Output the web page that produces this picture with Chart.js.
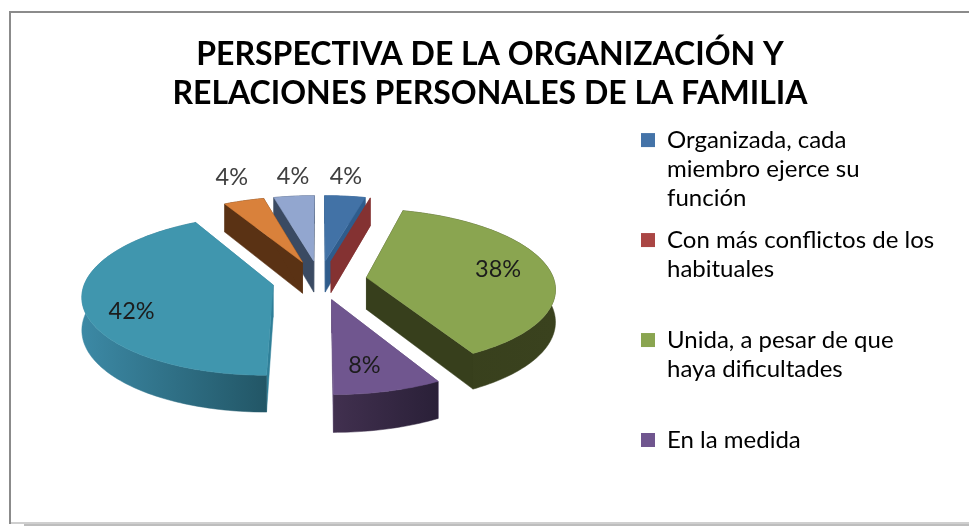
<!DOCTYPE html>
<html><head><meta charset="utf-8">
<style>html,body{margin:0;padding:0;background:#fff}#w{width:969px;height:527px;position:relative}</style>
<script src="https://cdn.jsdelivr.net/npm/chart.js@4"></script>
</head><body><div id="w"><canvas id="c" width="969" height="527"></canvas></div>
<script>
const titleLines = ['PERSPECTIVA DE LA ORGANIZACIÓN Y', 'RELACIONES PERSONALES DE LA FAMILIA'];
const categories = [
  'Organizada, cada miembro ejerce su función',
  'Con más conflictos de los habituales',
  'Unida, a pesar de que haya dificultades',
  'En la medida',
  '', '', ''
];
const legendLines = [
  ['Organizada, cada', 'miembro ejerce su', 'función'],
  ['Con más conflictos de los', 'habituales', ''],
  ['Unida, a pesar de que', 'haya dificultades', ''],
  ['En la medida']
];
const percentages = [4, 0, 38, 8, 42, 4, 4];

const topColors    = ['#4272a6', '#843232', '#8aa550', '#70568f', '#4096ae', '#d9813b', '#92a6cf'];
const legendColors = ['#4473a8', '#aa4644', '#8aa550', '#70568f', '#4096ae', '#d9813b', '#92a6cf'];
const faceColors   = ['#2f5c8c', '#843232', '#373f1c', '#5c4678', '#2f7f98', '#5a3214', '#3a4a62'];
const wallLeft     = ['#2f5c8c', '#843232', '#373f1c', '#41304f', '#3c89a5', '#5a3214', '#3a4a62'];
const wallRight    = ['#2f5c8c', '#843232', '#3a421e', '#2a2038', '#225666', '#5a3214', '#3a4a62'];
const labelReach   = [1.33, 0, 0.69, 0.72, 0.76, 1.42, 1.33];
const labelShiftX  = [-5, 0, 4, -7, 4, 10, 5];
const labelShiftY  = [0, 0, -1, 1, 11, 0, 0];

const VIEW = {cx: 319.5, y0: 280, r: 187.5, explode: 47.5, persp: 0.00066, tilt: 0.415, depth: 32};
const FONT = 'Lato, sans-serif';

function plane(theta, reach, t) {
  return {U: VIEW.explode*Math.sin(theta) + reach*Math.sin(t), V: VIEW.explode*Math.cos(theta) + reach*Math.cos(t)};
}
function project(p, d) {
  const w = 1 + VIEW.persp*p.V;
  return {x: VIEW.cx + p.U/w, y: VIEW.y0 - VIEW.tilt*p.V/w + d/w};
}
function polygon(ctx, pts, fill) {
  ctx.beginPath();
  pts.forEach((q, i) => i ? ctx.lineTo(q.x, q.y) : ctx.moveTo(q.x, q.y));
  ctx.closePath();
  ctx.fillStyle = fill; ctx.fill();
  ctx.strokeStyle = fill; ctx.lineWidth = 0.5; ctx.stroke();
}
function angles(arc) {
  const a = arc.startAngle + Math.PI/2, b = arc.endAngle + Math.PI/2;
  return {a, b, mid: (a + b)/2};
}
function drawSlice(ctx, arc, i) {
  const {a, b, mid} = angles(arc);
  const n = Math.max(1, Math.ceil((b - a)/0.02));
  const rimPlane = [];
  for (let k = 0; k <= n; k++) rimPlane.push(plane(mid, VIEW.r, a + (b - a)*k/n));
  const apex = plane(mid, 0, 0);
  const topRim = rimPlane.map(p => project(p, 0));
  const lowRim = rimPlane.map(p => project(p, VIEW.depth));
  const A0 = project(apex, 0), A1 = project(apex, VIEW.depth);
  polygon(ctx, [A0, topRim[0], lowRim[0], A1], faceColors[i]);
  polygon(ctx, [A0, topRim[n], lowRim[n], A1], faceColors[i]);
  if (b - a <= 0) return;
  const xs = topRim.map(q => q.x);
  const g = ctx.createLinearGradient(Math.min(...xs), 0, Math.max(...xs), 0);
  g.addColorStop(0, wallLeft[i]); g.addColorStop(1, wallRight[i]);
  polygon(ctx, topRim.concat(lowRim.slice().reverse()), g);
  polygon(ctx, [A0].concat(topRim), topColors[i]);
}
const pie3d = {
  id: 'pie3d',
  afterLayout(chart) {
    chart.legend.left = 628;
    chart.legend.right = chart.width;
  },
  beforeDraw(chart) {
    const c = chart.ctx;
    c.save();
    c.fillStyle = '#fff'; c.fillRect(0, 0, chart.width, chart.height);
    c.fillStyle = '#bdbdbd'; c.fillRect(24, 524, chart.width - 24, 2);
    c.fillStyle = '#cfcfcf'; c.fillRect(9, 522, chart.width - 9, 2);
    c.fillStyle = '#8b8b8b'; c.fillRect(9, 11, chart.width - 9, 2);
    c.fillRect(9, 11, 2, 513);
    c.restore();
  },
  beforeDatasetDraw(chart, args) {
    const ctx = chart.ctx, arcs = chart.getDatasetMeta(args.index).data;
    const order = arcs.map((arc, i) => i).sort((p, q) => Math.cos(angles(arcs[q]).mid) - Math.cos(angles(arcs[p]).mid));
    ctx.save();
    order.forEach(i => drawSlice(ctx, arcs[i], i));
    ctx.restore();
    return false;
  },
  afterDatasetsDraw(chart) {
    const ctx = chart.ctx, arcs = chart.getDatasetMeta(0).data;
    ctx.save();
    ctx.font = '23.5px ' + FONT;
    ctx.textAlign = 'center'; ctx.textBaseline = 'middle';
    arcs.forEach((arc, i) => {
      if (!percentages[i]) return;
      const {mid} = angles(arc);
      const q = project(plane(mid, 190*labelReach[i], mid), 0);
      ctx.fillStyle = labelReach[i] > 1 ? '#404040' : '#1c1c1c';
      ctx.fillText(percentages[i] + '%', q.x + labelShiftX[i], q.y + labelShiftY[i]);
    });
    ctx.restore();
  }
};
new Chart(document.getElementById('c'), {
  type: 'pie',
  data: {labels: categories, datasets: [{data: percentages, backgroundColor: topColors, borderWidth: 0}]},
  plugins: [pie3d],
  options: {
    responsive: false, animation: false,
    layout: {padding: {left: 11, right: 0, top: 35, bottom: 0}},
    plugins: {
      tooltip: {enabled: false},
      title: {display: true, text: titleLines, color: '#000', padding: {top: 0, bottom: 2},
        font: {family: FONT, size: 32, weight: 'bold', lineHeight: 1.22}},
      legend: {position: 'right', align: 'start', fullSize: false,
        labels: {font: {family: FONT, size: 24, lineHeight: 1.208}, color: '#333', boxWidth: 14, boxHeight: 14, padding: 13,
          generateLabels: () => legendLines.map((text, i) => ({text, fillStyle: legendColors[i], strokeStyle: legendColors[i], lineWidth: 0, index: i, hidden: false}))}}
    }
  }
});
</script></body></html>
